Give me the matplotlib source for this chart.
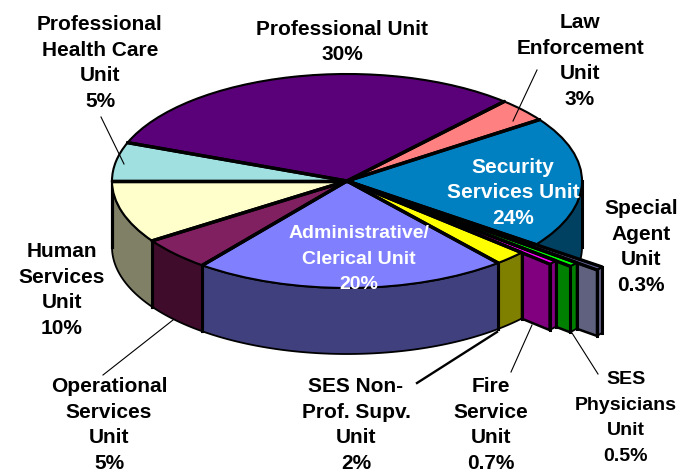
import numpy as np
import matplotlib
matplotlib.use("Agg")
import matplotlib.pyplot as plt
from matplotlib.patches import Polygon

# sweep of each slice as drawn in the picture (degrees), clockwise from Professional
units = ["Professional", "Law", "Security", "Special", "Physicians", "Fire",
         "NonProf", "Admin", "Operational", "Human", "Health"]
sweep = [111, 13, 71.5, 1.5, 2, 2, 8, 78, 18, 34, 21]
reach = [1, 1, 1, 1.35, 1.24, 1.16, 1, 1, 1, 1, 1]
top_colors = ["#5A0078", "#FF8080", "#0080C0", "#666699", "#00FF00", "#FF00FF",
              "#FFFF00", "#8080FF", "#802060", "#FFFFCC", "#A0E0E0"]
side_colors = ["#2D003C", "#804040", "#004060", "#60607F", "#008000", "#800080",
               "#808000", "#40407F", "#400C2C", "#808066", "#507070"]

label_text = ["Professional\nHealth Care\nUnit\n5%", "Professional Unit\n30%",
              "Law\nEnforcement\nUnit\n3%", "Security\nServices Unit\n24%",
              "Special\nAgent\nUnit\n0.3%", "Administrative/\nClerical Unit\n20%",
              "Human\nServices\nUnit\n10%", "Operational\nServices\nUnit\n5%",
              "SES Non-\nProf. Supv.\nUnit\n2%", "Fire\nService\nUnit\n0.7%",
              "SES\nPhysicians\nUnit\n0.5%"]
label_x = [100, 342, 580, 513, 641, 359, 62, 109, 356, 491, 626]
label_y = [63, 42, 61, 193, 247, 259, 290, 425, 425, 425, 418]
label_size = [15, 15, 15, 15, 15, 14, 15, 15, 15, 15, 14]
label_color = ["black", "black", "black", "white", "black", "white",
               "black", "black", "black", "black", "black"]

# leader lines, pixel positions in the image
leader_x = [[101, 124], [537, 513], [173, 103], [497, 417], [532, 511], [572, 598]]
leader_y = [[117, 164], [70, 121], [320, 375], [332, 383], [325, 372], [333, 374]]
leader_w = [0.8, 0.8, 0.8, 1.7, 0.8, 0.8]

W, H = 694, 472
CX, CY, A, B, DEPTH = 347, 181, 235, 107, 66
LINE_SPACING = {15: 1.465, 14: 1.667}

fig = plt.figure(figsize=(W / 100, H / 100), dpi=100)
ax = fig.add_axes([0, 0, 1, 1])

wedges, _ = ax.pie(sweep, colors=top_colors, startangle=159, counterclock=False,
                   wedgeprops={"edgecolor": "black", "linewidth": 1.5})
ax.set_aspect("auto")
ax.set_xlim(-CX / A, (W - CX) / A)
ax.set_ylim((CY - H) / B, CY / B)
ax.axis("off")

depth = DEPTH / B

for w, r in zip(wedges, reach):
    w.set_radius(r)
    w.set_zorder(3)


def pt(r, deg):
    return r * np.cos(np.radians(deg)), r * np.sin(np.radians(deg))


# side walls, back to front
for i in range(2, len(units)):
    r = reach[i]
    t = np.linspace(wedges[i].theta2, wedges[i].theta1, 200)
    t = t[np.sin(np.radians(t)) <= 1e-6]
    if len(t) == 0:
        continue
    x, y = pt(r, t)
    ring = np.r_[np.c_[x, y], np.c_[x, y - depth][::-1]]
    ax.add_patch(Polygon(ring, closed=True, facecolor=side_colors[i], edgecolor="black",
                         linewidth=1.3, zorder=1 + i * 0.01))
    ax.plot([x[0], x[0]], [y[0], y[0] - depth], color="black", lw=2.2, zorder=1 + i * 0.01)
    ax.plot([x[-1], x[-1]], [y[-1], y[-1] - depth], color="black", lw=2.2, zorder=1 + i * 0.01)
    # pulled out slices also show their cut face
    if r > 1:
        inner = reach[i + 1]
        x0, y0 = pt(inner, t[-1])
        x1, y1 = pt(r, t[-1])
        face = [(x0, y0), (x1, y1), (x1, y1 - depth), (x0, y0 - depth)]
        ax.add_patch(Polygon(face, closed=True, facecolor=side_colors[i], edgecolor="black",
                             linewidth=1.8, zorder=1 + i * 0.01 + 0.001))

# heavy radial lines on the top surface
for w, r in zip(wedges, reach):
    for deg in (w.theta1, w.theta2):
        x, y = pt(r, deg)
        ax.plot([0, x], [0, y], color="black", lw=2.4, zorder=3.5, solid_capstyle="round")


def to_x(p):
    return (np.asarray(p) - CX) / A


def to_y(p):
    return (CY - np.asarray(p)) / B


for lx, ly, lw in zip(leader_x, leader_y, leader_w):
    ax.plot(to_x(lx), to_y(ly), color="black", lw=lw, zorder=2.5 if lw > 1 else 4)

for s, x, y, c, size in zip(label_text, label_x, label_y, label_color, label_size):
    ax.text(to_x(x), to_y(y), s, color=c, ha="center", va="center", ma="center",
            family="Liberation Sans", fontweight="bold", fontsize=size,
            linespacing=LINE_SPACING[size], zorder=5)

fig.savefig("out.png", dpi=100)
